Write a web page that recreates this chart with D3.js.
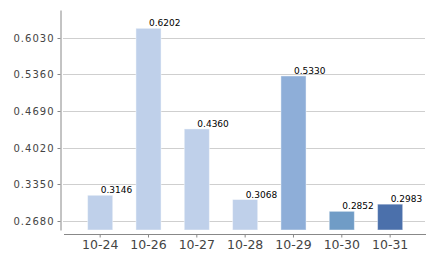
<!DOCTYPE html>
<html><head><meta charset="utf-8">
<script src="https://cdn.jsdelivr.net/npm/d3@7"></script>
<style>body{margin:0;background:#fff}svg{display:block}</style>
</head><body>
<svg id="c" width="438" height="260"></svg>
<script>
const categories = ["10-24","10-26","10-27","10-28","10-29","10-30","10-31"];
const values = [0.3146, 0.6202, 0.4360, 0.3068, 0.5330, 0.2852, 0.2983];
const barColors = ["#bfd0ea","#bfd0ea","#bfd0ea","#bfd0ea","#8eaed8","#709cc6","#4b70ab"];
const yTicks = [0.2680, 0.3350, 0.4020, 0.4690, 0.5360, 0.6030];
const yDomain = [0.251, 0.6537];

const svg = d3.select("#c");
const x = d3.scaleBand().domain(categories).range([76, 414.3]).paddingInner(0.48).paddingOuter(0.24);
const y = d3.scaleLinear().domain(yDomain).range([230, 10]);

// gridlines
svg.append("g").selectAll("line").data(yTicks).join("line")
  .attr("x1", 63).attr("x2", 425)
  .attr("y1", d => Math.round(y(d)) + 0.5).attr("y2", d => Math.round(y(d)) + 0.5)
  .attr("stroke", "#cfcfcf").attr("stroke-width", 1);

// y axis
const yAxis = svg.append("g").attr("transform", "translate(60.5,0)")
  .call(d3.axisLeft(y).tickValues(yTicks).tickFormat(d3.format(".4f")).tickSize(3).tickSizeOuter(0));
yAxis.select(".domain").attr("stroke", "#888");
yAxis.selectAll(".tick line").attr("stroke", "#888");
yAxis.selectAll(".tick").attr("transform", d => `translate(0,${Math.round(y(d)) + 0.5})`);
yAxis.selectAll("text").attr("x", -6).attr("fill", "#444")
  .style("font-family", "DejaVu Sans").style("font-size", "10px").style("letter-spacing", "1px");

// bars
svg.append("g").selectAll("rect").data(values).join("rect")
  .attr("x", (d, i) => x(categories[i]))
  .attr("y", d => y(d))
  .attr("width", x.bandwidth())
  .attr("height", d => y(yDomain[0]) - y(d))
  .attr("fill", (d, i) => barColors[i])
  .attr("stroke", "rgba(255,255,255,0.45)").attr("stroke-width", 1);

// value labels
svg.append("g").selectAll("text").data(values).join("text")
  .attr("x", (d, i) => x(categories[i]) + x.bandwidth() / 2 + 0.5)
  .attr("y", d => y(d) - 2)
  .attr("fill", "#000")
  .style("font-family", "DejaVu Sans").style("font-size", "9px")
  .text(d => d3.format(".4f")(d));

// x axis
const xAxis = svg.append("g").attr("transform", "translate(0,234.5)")
  .call(d3.axisBottom(x).tickSize(3).tickSizeOuter(0));
xAxis.select(".domain").attr("d", "M64,0H426").attr("stroke", "#888");
xAxis.selectAll(".tick line").attr("stroke", "#888");
xAxis.selectAll("text").attr("y", 6).attr("fill", "#444")
  .style("font-family", "DejaVu Sans").style("font-size", "12.5px");
</script>
</body></html>
